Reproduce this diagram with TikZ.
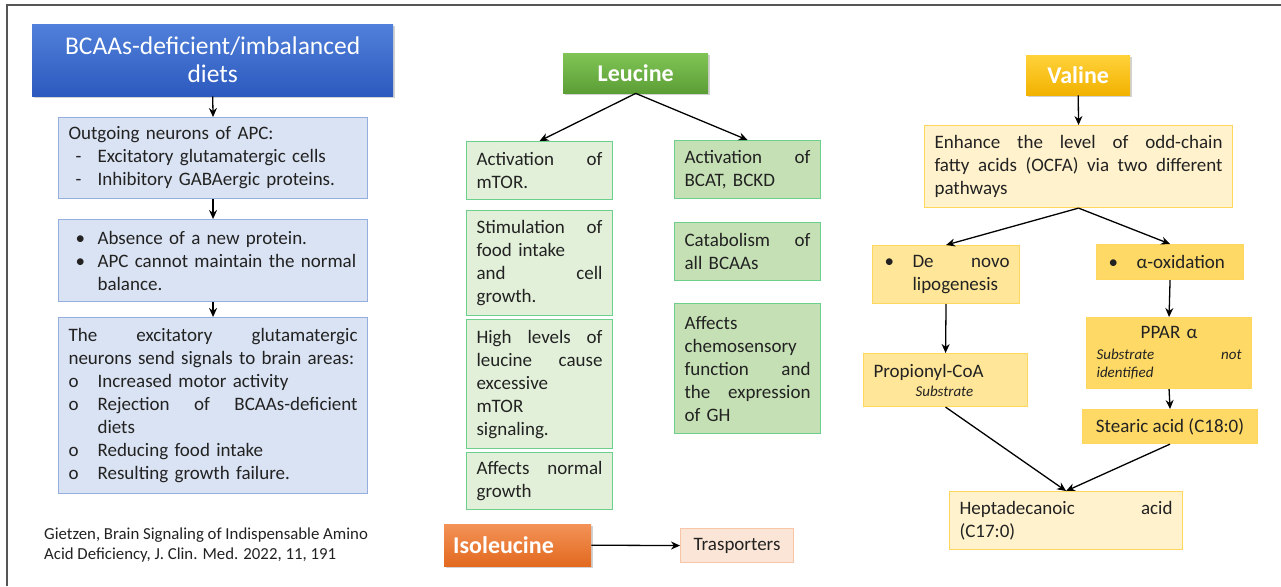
\documentclass[tikz,border=0pt]{standalone}
\usepackage{fontspec}
\setmainfont{Carlito}
\usetikzlibrary{arrows.meta,shadows}

\definecolor{txt}{HTML}{222222}
\definecolor{frame}{HTML}{555555}
\definecolor{bluetop}{HTML}{5080DA}
\definecolor{bluebot}{HTML}{2C59BE}
\definecolor{bluefill}{HTML}{DAE3F3}
\definecolor{blueedge}{HTML}{93AEDF}
\definecolor{greentop}{HTML}{80C455}
\definecolor{greenbot}{HTML}{5C9E36}
\definecolor{greenlight}{HTML}{E2F0D9}
\definecolor{greenmid}{HTML}{C5E0B4}
\definecolor{greenedge}{HTML}{6CD08C}
\definecolor{orangetop}{HTML}{F39257}
\definecolor{orangebot}{HTML}{E2691F}
\definecolor{orangefill}{HTML}{FBE5D6}
\definecolor{orangeedge}{HTML}{F8C6A6}
\definecolor{goldtop}{HTML}{FFD23A}
\definecolor{goldbot}{HTML}{F2B200}
\definecolor{yellowpale}{HTML}{FFF2CC}
\definecolor{yellowmid}{HTML}{FFE699}
\definecolor{yellowdeep}{HTML}{FFD966}
\definecolor{yellowedge}{HTML}{FFD75E}

% list marker with hanging text
\newcommand{\mk}[2][7pt]{\makebox[29pt][l]{\hspace*{#1}#2}}

\tikzset{
  body/.style={font=\fontsize{19}{23}\selectfont, text=txt, align=left,
    inner xsep=10pt, inner ysep=2pt, anchor=north west, line width=1.1pt},
  bluebox/.style={body, draw=blueedge, fill=bluefill},
  lgreen/.style={body, draw=greenedge, fill=greenlight},
  dgreen/.style={body, draw=greenedge, fill=greenmid},
  ybox/.style={body, draw=yellowedge},
  titlebox/.style={text=white, align=center, inner sep=2pt, anchor=north west,
    font=\fontsize{24}{28}\selectfont\bfseries,
    drop shadow={shadow xshift=1.5pt, shadow yshift=-2pt, opacity=0.35}},
  arr/.style={-{Stealth[length=9pt,width=8pt]}, line width=1.3pt, black}
}

\begin{document}
\begin{tikzpicture}[x=1pt,y=-1pt]
\useasboundingbox (0,0) rectangle (1281,586);
\fill[white] (0,0) rectangle (1281,586);
\draw[frame, line width=1.3pt] (7,586) -- (7,5) -- (1281,5);

% ---------- BCAAs column ----------
\node[titlebox, top color=bluetop, bottom color=bluebot,
      minimum width=361pt, minimum height=72pt,
      font=\fontsize{25.5}{28}\selectfont] (diet) at (32,24)
  {BCAAs-deficient/imbalanced\\diets};

\node[bluebox, text width=289pt, minimum height=81pt] (apc) at (58,117)
  {Outgoing neurons of APC:\\
   \mk{-}Excitatory glutamatergic cells\\
   \mk{-}Inhibitory GABAergic proteins.};

\node[bluebox, text width=289pt, minimum height=82pt] (absence) at (58,219)
  {\mk{•}Absence of a new protein.\\
   \mk{•}APC cannot maintain the normal\\
   \hspace*{29pt}balance.};

\node[bluebox, text width=289pt, minimum height=176pt] (signals) at (58,317)
  {The\hfill excitatory\hfill glutamatergic\\
   neurons send signals to brain areas:\\
   \mk[0pt]{o}Increased motor activity\\
   \mk[0pt]{o}Rejection\hfill of\hfill BCAAs-deficient\\
   \hspace*{29pt}diets\\
   \mk[0pt]{o}Reducing food intake\\
   \mk[0pt]{o}Resulting growth failure.};

\node[anchor=north west, align=left, text=txt, inner sep=0pt,
      font=\fontsize{16.8}{20}\selectfont] (cite) at (44,528)
  {Gietzen, Brain Signaling of Indispensable Amino\\
   Acid Deficiency, J. Clin. Med. 2022, 11, 191};

\draw[arr] (diet.south) -- (apc.north);
\draw[arr] (apc.south) -- (absence.north);
\draw[arr] (absence.south) -- (signals.north);

% ---------- Leucine column ----------
\node[titlebox, top color=greentop, bottom color=greenbot,
      minimum width=145pt, minimum height=40pt] (leu) at (563,53) {Leucine};

\node[lgreen, text width=126pt, minimum height=58pt] (mtor) at (466,141)
  {Activation\hfill of\\mTOR.};
\node[lgreen, text width=126pt, minimum height=105pt] (food) at (466,210)
  {Stimulation\hfill of\\food intake\\and\hfill cell\\growth.};
\node[lgreen, text width=126pt, minimum height=129pt] (high) at (466,319)
  {High\hfill levels\hfill of\\leucine\hfill cause\\excessive\\mTOR\\signaling.};
\node[lgreen, text width=126pt, minimum height=57pt] (normal) at (466,452)
  {Affects\hfill normal\\growth};

\node[dgreen, text width=126pt, minimum height=58pt] (bcat) at (674,140)
  {Activation\hfill of\\BCAT, BCKD};
\node[dgreen, text width=126pt, minimum height=58pt] (catab) at (674,222)
  {Catabolism\hfill of\\all BCAAs};
\node[dgreen, text width=126pt, minimum height=130pt] (chemo) at (674,303)
  {Affects\\chemosensory\\function\hfill and\\the\hfill expression\\of GH};

\draw[arr] (leu.south) -- (mtor.north);
\draw[arr] (leu.south) -- (bcat.north);

% ---------- Isoleucine ----------
\node[titlebox, top color=orangetop, bottom color=orangebot,
      minimum width=147pt, minimum height=42pt, align=left,
      text width=129pt, inner xsep=9pt] (iso) at (444,524) {Isoleucine};
\node[body, draw=orangeedge, fill=orangefill, align=center,
      minimum width=113pt, minimum height=34pt] (trans) at (680,528) {Trasporters};
\draw[arr] (iso.east) -- (trans.west);

% ---------- Valine column ----------
\node[titlebox, top color=goldtop, bottom color=goldbot,
      minimum width=104pt, minimum height=40pt] (val) at (1026,55) {Valine};

\node[ybox, fill=yellowpale, text width=288pt, minimum height=82pt] (ocfa) at (924,125)
  {Enhance\hfill the\hfill level\hfill of\hfill odd-chain\\
   fatty\hfill acids\hfill (OCFA)\hfill via\hfill two\hfill different\\
   pathways};

\node[ybox, fill=yellowmid, text width=127pt, minimum height=58pt] (denovo) at (872,245)
  {\makebox[30pt][l]{\hspace*{2pt}•}De\hfill novo\\\hspace*{30pt}lipogenesis};
\node[ybox, fill=yellowdeep, text width=127pt, minimum height=35pt] (aox) at (1096,244)
  {\makebox[30pt][l]{\hspace*{2pt}•}α-oxidation};

\node[ybox, fill=yellowmid, text width=144pt, minimum height=53pt] (prop) at (863,353)
  {Propionyl-CoA\\[-4pt]\hspace*{42pt}{\fontsize{15}{16}\selectfont\itshape Substrate}};

\node[ybox, fill=yellowdeep, text width=145pt, minimum height=71pt] (ppar) at (1086,317)
  {\makebox[145pt][c]{PPAR α}\\[3pt]
   {\fontsize{15}{18}\selectfont\itshape Substrate\hfill not\\identified\par}};

\node[ybox, fill=yellowdeep, align=center, minimum width=175pt, minimum height=34pt]
  (stear) at (1082,409) {Stearic acid (C18:0)};

\node[ybox, fill=yellowpale, text width=213pt, minimum height=58pt] (hepta) at (949,491)
  {Heptadecanoic\hfill acid\\(C17:0)};

\draw[arr] (val.south) -- (ocfa.north);
\draw[arr] (ocfa.south) -- (denovo.north);
\draw[arr] (ocfa.south) -- (aox.north);
\draw[arr] (denovo.south) -- (prop.north);
\draw[arr] (aox.south) -- (ppar.north);
\draw[arr] (ppar.south) -- (stear.north);
\draw[arr] (prop.south) -- (hepta.north);
\draw[arr] (stear.south) -- (hepta.north);
\end{tikzpicture}
\end{document}
